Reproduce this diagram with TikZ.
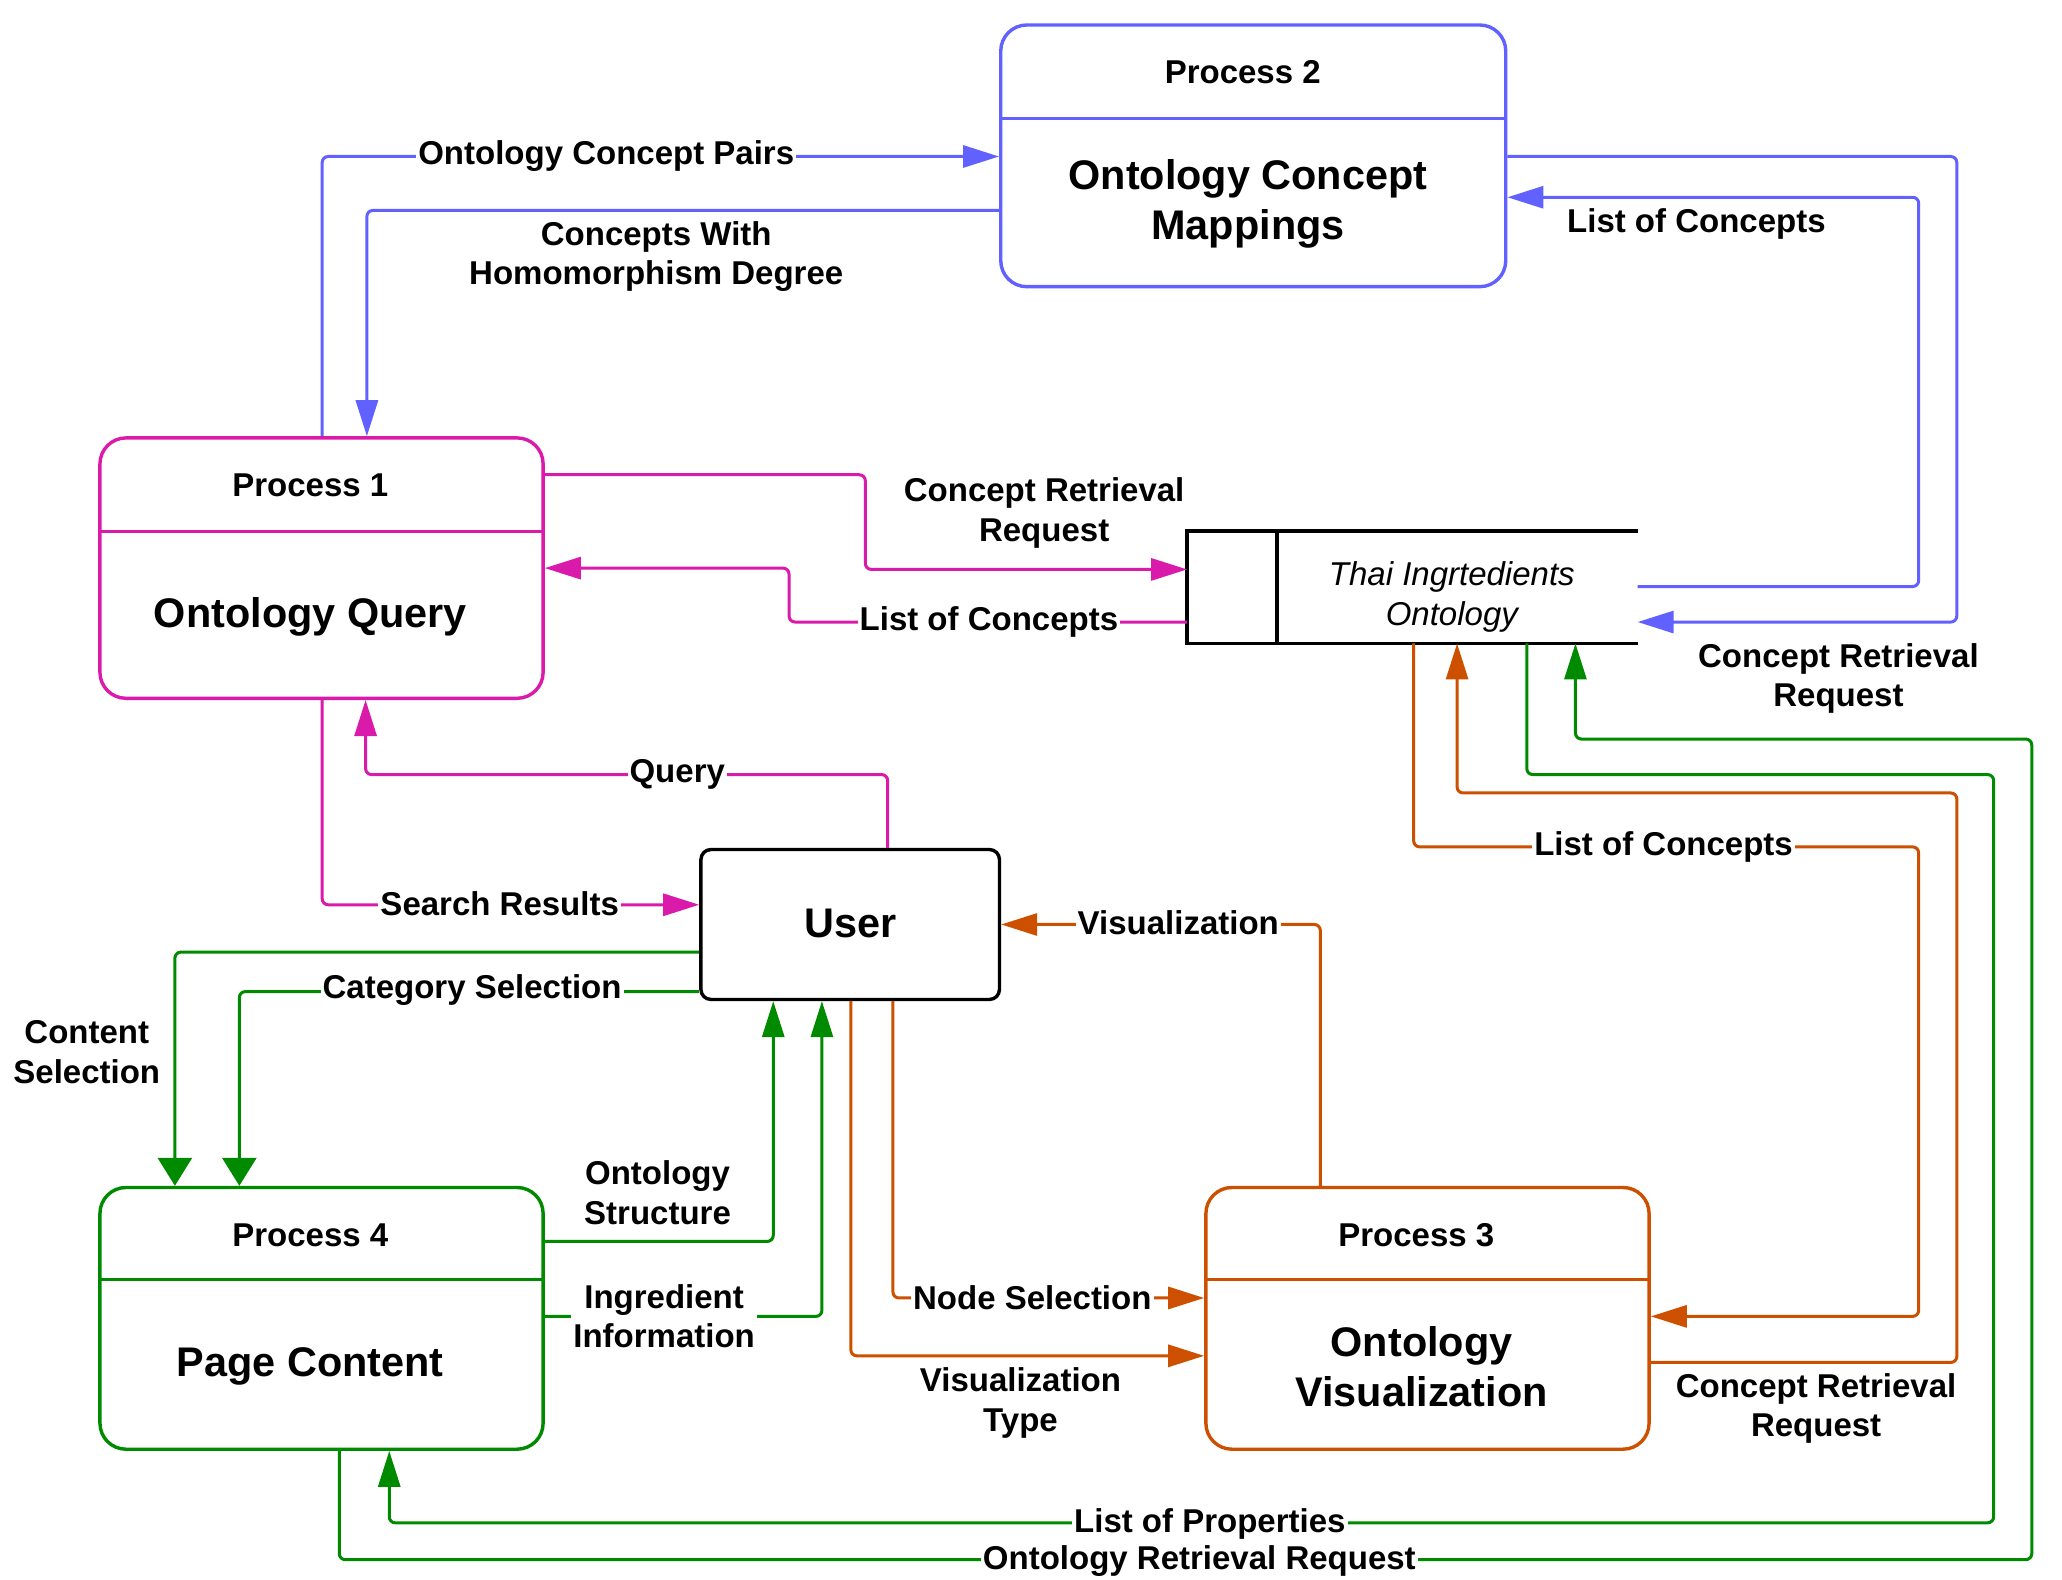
\documentclass[tikz,border=0pt]{standalone}
\usepackage{fontspec}
\setmainfont{Liberation Sans}
\usetikzlibrary{arrows.meta,fit}
\definecolor{cblue}{RGB}{97,97,255}
\definecolor{cmag}{RGB}{218,26,170}
\definecolor{cgreen}{RGB}{0,138,0}
\definecolor{corange}{RGB}{204,80,0}
\begin{document}
\begin{tikzpicture}[x=0.6575pt,y=-0.6575pt,
  proc/.style={draw, line width=1.7pt, rounded corners=13pt, inner sep=0pt},
  divider/.style={line width=1.7pt},
  flow/.style={line width=1.5pt, rounded corners=3pt},
  tip/.style={-{Triangle[length=18pt,width=11pt]}},
  wtip/.style={-{Triangle[length=14pt,width=17pt]}},
  lab/.style={font=\fontsize{16.5}{19.8}\selectfont\bfseries, align=center, inner sep=1pt, yshift=-1.3pt},
  labw/.style={lab, fill=white},
  bigtitle/.style={font=\fontsize{20.7}{25}\selectfont\bfseries, align=center, yshift=-2pt},
  ptitle/.style={font=\fontsize{16.5}{19.8}\selectfont\bfseries, yshift=-1.3pt}
]
\useasboundingbox (0,0) rectangle (1568,1201);

% ---- boxes ----
\node[proc, draw=cblue, fit={(761,19) (1145,218)}] (p2) {};
\draw[divider, cblue] (p2.west |- 0,90) -- (p2.east |- 0,90);
\node[ptitle] (p2a) at (945,53) {Process 2};
\node[bigtitle] (p2b) at (949,152) {Ontology Concept\\Mappings};

\node[proc, draw=cmag, fit={(76,333) (413,531)}] (p1) {};
\draw[divider, cmag] (p1.west |- 0,404) -- (p1.east |- 0,404);
\node[ptitle] (p1a) at (236,367) {Process 1};
\node[bigtitle] (p1b) at (236,466) {Ontology Query};

\node[proc, draw=cgreen, fit={(76,903) (413,1102)}] (p4) {};
\draw[divider, cgreen] (p4.west |- 0,973) -- (p4.east |- 0,973);
\node[ptitle] (p4a) at (236,937) {Process 4};
\node[bigtitle] (p4b) at (236,1036) {Page Content};

\node[proc, draw=corange, fit={(917,903) (1254,1102)}] (p3) {};
\draw[divider, corange] (p3.west |- 0,973) -- (p3.east |- 0,973);
\node[ptitle] (p3a) at (1077,937) {Process 3};
\node[bigtitle] (p3b) at (1081,1036) {Ontology\\Visualization};

\node[draw, line width=1.7pt, rounded corners=5pt, inner sep=0pt, fit={(533,646) (760,760)}] (user) {};
\node[bigtitle] (usert) at (647,699) {User};

\node[inner sep=0pt, fit={(903,404) (1245,489)}] (ds) {};
\draw[line width=1.7pt] (ds.north east) -- (ds.north west) -- (ds.south west) -- (ds.south east);
\draw[line width=1.7pt] (ds.north -| 971,0) -- (ds.south -| 971,0);
\node[font=\fontsize{16.5}{19.8}\selectfont\itshape, align=center, yshift=-1.3pt] (dst) at (1104,452) {Thai Ingrtedients\\Ontology};

% ---- blue flows ----
\draw[flow, cblue, tip] (p1.north -| 245,0) -- (245,119) -- (p2.west |- 0,119);
\draw[flow, cblue, tip] (p2.west |- 0,160) -- (279,160) -- (p1.north -| 279,0);
\draw[flow, cblue, tip] (ds.east |- 0,446) -- (1459,446) -- (1459,150) -- (p2.east |- 0,150);
\draw[flow, cblue, tip] (p2.east |- 0,119) -- (1488,119) -- (1488,473) -- (ds.east |- 0,473);

% ---- magenta flows ----
\draw[flow, cmag, tip] (p1.east |- 0,361) -- (658,361) -- (658,433) -- (ds.west |- 0,433);
\draw[flow, cmag, tip] (ds.west |- 0,473) -- (600,473) -- (600,432) -- (p1.east |- 0,432);
\draw[flow, cmag, tip] (user.north -| 675,0) -- (675,589) -- (278,589) -- (p1.south -| 278,0);
\draw[flow, cmag, tip] (p1.south -| 245,0) -- (245,688) -- (user.west |- 0,688);

% ---- green flows ----
\draw[flow, cgreen, wtip] (user.west |- 0,724) -- (133,724) -- (p4.north -| 133,0);
\draw[flow, cgreen, wtip] (user.west |- 0,754) -- (182,754) -- (p4.north -| 182,0);
\draw[flow, cgreen, tip] (p4.east |- 0,944) -- (588,944) -- (user.south -| 588,0);
\draw[flow, cgreen, tip] (p4.east |- 0,1001) -- (625,1001) -- (user.south -| 625,0);
\draw[flow, cgreen, tip] (ds.south -| 1161,0) -- (1161,589) -- (1516,589) -- (1516,1158) -- (296,1158) -- (p4.south -| 296,0);
\draw[flow, cgreen, tip] (p4.south -| 258,0) -- (258,1186) -- (1545,1186) -- (1545,562) -- (1198,562) -- (ds.south -| 1198,0);

% ---- orange flows ----
\draw[flow, corange, tip] (p3.north -| 1004,0) -- (1004,703) -- (user.east |- 0,703);
\draw[flow, corange, tip] (user.south -| 679,0) -- (679,987) -- (p3.west |- 0,987);
\draw[flow, corange, tip] (user.south -| 647,0) -- (647,1031) -- (p3.west |- 0,1031);
\draw[flow, corange, tip] (ds.south -| 1075,0) -- (1075,644) -- (1459,644) -- (1459,1001) -- (p3.east |- 0,1001);
\draw[flow, corange, tip] (p3.east |- 0,1036) -- (1488,1036) -- (1488,603) -- (1108,603) -- (ds.south -| 1108,0);

% ---- labels ----
\node[labw] (l1) at (461,117) {Ontology Concept Pairs};
\node[lab] (l2) at (499,193) {Concepts With\\Homomorphism Degree};
\node[lab] (l3) at (1290,168) {List of Concepts};
\node[lab] (l4) at (1398,514) {Concept Retrieval\\Request};
\node[lab] (l5) at (794,388) {Concept Retrieval\\Request};
\node[labw] (l6) at (752,471) {List of Concepts};
\node[labw] (l7) at (515,587) {Query};
\node[labw] (l8) at (380,685) {Search Results};
\node[lab] (l9) at (66,798) {Content\\Selection};
\node[labw] (l10) at (359,751) {Category Selection};
\node[lab] (l11) at (500,905) {Ontology\\Structure};
\node[labw] (l12) at (505,999) {Ingredient\\Information};
\node[labw] (l13) at (920,1157) {List of Properties};
\node[labw] (l14) at (912,1185) {Ontology Retrieval Request};
\node[labw] (l15) at (896,700) {Visualization};
\node[labw] (l16) at (785,985) {Node Selection};
\node[lab] (l17) at (776,1065) {Visualization\\Type};
\node[labw] (l18) at (1265,642) {List of Concepts};
\node[lab] (l19) at (1381,1069) {Concept Retrieval\\Request};
\end{tikzpicture}
\end{document}
